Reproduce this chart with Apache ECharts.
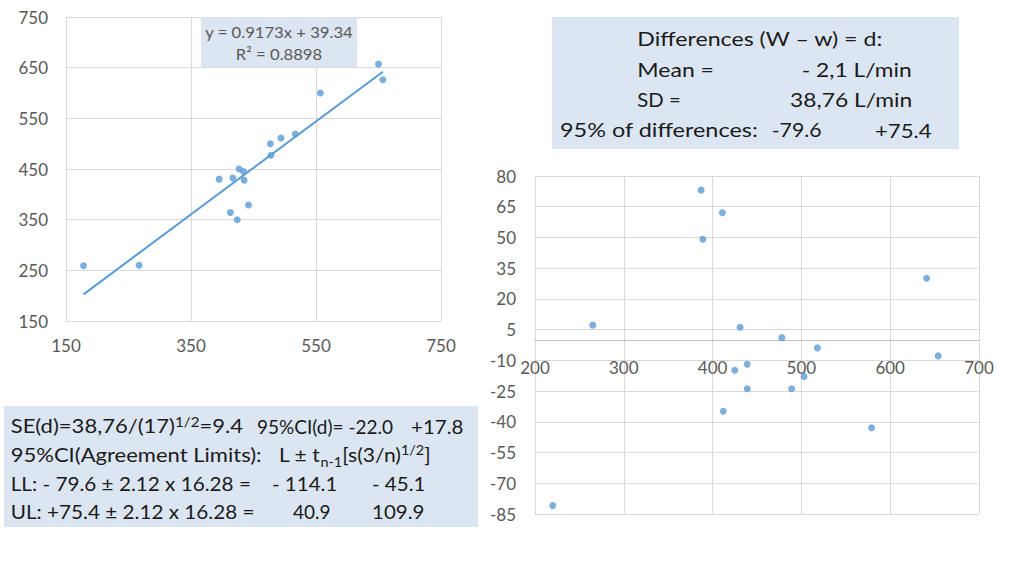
<!DOCTYPE html>
<html><head><meta charset="utf-8">
<script src="https://cdn.jsdelivr.net/npm/echarts@6/dist/echarts.min.js"></script>
<style>html,body{margin:0;padding:0;background:#fff}#c{width:1024px;height:576px}</style>
</head><body><div id="c"></div>
<script>
// ---- Left chart: W (x) vs w (y) ----
const leftX = [178, 267, 395, 417, 427, 434, 435, 413, 424, 442, 477, 478, 494, 517, 557, 650, 657];
const leftY = [259, 260, 430, 432, 450, 445, 428, 364, 350, 379, 500, 477, 511, 519, 600, 657, 626];
const trendSlope = 0.9173;
const trendIntercept = 39.34;
const rSquared = 0.8898;
const leftXTicks = [150, 350, 550, 750];
const leftYTicks = [150, 250, 350, 450, 550, 650, 750];

// ---- Right chart: mean (x) vs difference (y) ----
const meanValues = [387, 411, 389, 641, 265, 431, 478, 518, 654, 439, 425, 503, 439, 489, 412, 579, 220];
const diffValues = [73.1, 62.1, 49.1, 30.1, 7.2, 6.2, 1.1, -3.9, -7.8, -11.9, -14.8, -17.9, -23.9, -23.9, -34.8, -42.9, -80.9];
const rightXTicks = [200, 300, 400, 500, 600, 700];
const rightYTicks = [-85, -70, -55, -40, -25, -10, 5, 20, 35, 50, 65, 80];

const FONT = 'Lato';
const BLUE = '#5b9bd5';
const GRID = '#d9d9d9';
const LABEL = '#595959';
const BOX = '#dce6f2';
const INK = '#1a1a1a';

const leftPts = leftX.map((x, i) => [x, leftY[i]]);
const rightPts = meanValues.map((x, i) => [x, diffValues[i]]);
const tx0 = Math.min(...leftX), tx1 = Math.max(...leftX);
const trendPts = [[tx0, trendSlope * tx0 + trendIntercept], [tx1, trendSlope * tx1 + trendIntercept]];

function axisCommon(ticks, extra) {
  return Object.assign({
    type: 'value',
    axisLine: { show: true, onZero: false, lineStyle: { color: GRID } },
    axisTick: { show: false, customValues: ticks },
    splitLine: { show: true, lineStyle: { color: GRID, width: 1 } },
    axisLabel: { customValues: ticks, color: LABEL, fontSize: 17, fontFamily: FONT }
  }, extra);
}

const mctx = document.createElement('canvas').getContext('2d');
function measure(text, size) {
  mctx.font = size + 'px ' + FONT;
  return mctx.measureText(text).width;
}
function piece(x, y, text, size, s, align, color) {
  return { type: 'text', z: 100, x: x, y: y, scaleX: s,
    style: { text: text, x: 0, y: 0, fill: color || INK, fontSize: size, fontFamily: FONT,
      textAlign: align || 'left', textVerticalAlign: 'middle' } };
}
// text piece stretched horizontally to span [x0, x1]
function fit(x0, x1, y, text, size, align) {
  let s = (x1 - x0) / measure(text, size);
  s = Math.max(0.9, Math.min(1.3, s));
  return align === 'right' ? piece(x1, y, text, size, s, 'right') : piece(x0, y, text, size, s);
}
// sequence of runs (with super/subscripts) laid out from x with a uniform horizontal scale
function seq(x, y, runs, s) {
  s = s || 1.08;
  const out = [];
  let cx = x;
  runs.forEach(r => {
    const size = r[1] || 19, dy = r[2] || 0;
    out.push(piece(cx, y + dy, r[0], size, s));
    cx += measure(r[0], size) * s;
  });
  return out;
}

const zeroOffset = -338 * (0 - (-85)) / (80 - (-85)); // lift the x axis to y = 0

const chart = echarts.init(document.getElementById('c'), null, { renderer: 'svg', width: 1024, height: 576 });
chart.setOption({
  animation: false,
  backgroundColor: '#ffffff',
  textStyle: { fontFamily: FONT },
  grid: [
    { left: 66, top: 17, width: 375, height: 304, outerBoundsMode: 'none' },
    { left: 535, top: 176, width: 444, height: 338, outerBoundsMode: 'none' }
  ],
  xAxis: [
    axisCommon(leftXTicks, { gridIndex: 0, min: 150, max: 750,
      axisLabel: { customValues: leftXTicks, color: LABEL, fontSize: 17, fontFamily: FONT, margin: 16 } }),
    axisCommon(rightXTicks, { gridIndex: 1, min: 200, max: 700, position: 'bottom', offset: zeroOffset,
      axisLine: { show: true, onZero: false, lineStyle: { color: '#bfbfbf' } },
      axisLabel: { customValues: rightXTicks, color: LABEL, fontSize: 17, fontFamily: FONT, margin: 19 } })
  ],
  yAxis: [
    axisCommon(leftYTicks, { gridIndex: 0, min: 150, max: 750,
      axisLabel: { customValues: leftYTicks, color: LABEL, fontSize: 17, fontFamily: FONT, margin: 18 } }),
    axisCommon(rightYTicks, { gridIndex: 1, min: -85, max: 80,
      axisLabel: { customValues: rightYTicks, color: LABEL, fontSize: 17, fontFamily: FONT, margin: 19 } })
  ],
  series: [
    { type: 'line', xAxisIndex: 0, yAxisIndex: 0, data: trendPts, showSymbol: false, silent: true,
      lineStyle: { color: BLUE, width: 2 }, z: 2 },
    { type: 'scatter', xAxisIndex: 0, yAxisIndex: 0, data: leftPts, symbolSize: 7,
      itemStyle: { color: BLUE }, z: 3 },
    { type: 'scatter', xAxisIndex: 1, yAxisIndex: 1, data: rightPts, symbolSize: 7,
      itemStyle: { color: BLUE }, z: 3 }
  ],
  graphic: [].concat(
    // trendline label box
    [{ type: 'rect', z: 50, shape: { x: 201, y: 17, width: 156, height: 50 }, style: { fill: BOX } },
     piece(279, 32, 'y = ' + trendSlope + 'x + ' + trendIntercept, 16, 1.04, 'center', LABEL),
     piece(279, 54, 'R² = ' + rSquared, 16, 1.04, 'center', LABEL)],
    // top-right stats box
    [{ type: 'rect', z: 50, shape: { x: 552, y: 17, width: 407, height: 132 }, style: { fill: BOX } },
     fit(637.3, 883.3, 39, 'Differences (W – w) = d:', 20),
     fit(637.3, 714, 69.5, 'Mean =', 20),
     fit(801.7, 911.7, 69.5, '- 2,1 L/min', 20, 'right'),
     fit(637.3, 680.7, 99.5, 'SD =', 20),
     fit(790, 912.3, 99.5, '38,76 L/min', 20, 'right'),
     fit(560, 758.3, 129.5, '95% of differences:', 20),
     fit(771.7, 821.7, 129.5, '-79.6', 20),
     fit(875, 931.7, 129.5, '+75.4', 20)],
    // bottom-left box
    [{ type: 'rect', z: 50, shape: { x: 4, y: 406, width: 474, height: 121 }, style: { fill: BOX } }],
    seq(10.7, 426, [['SE(d)=38,76/(17)'], ['1/2', 13, -4.5], ['=9.4']], 1.16),
    seq(257, 426, [['95%CI(d)= -22.0']], 1.0),
    seq(411, 426, [['+17.8']]),
    seq(10.7, 454.7, [['95%CI(Agreement Limits):']], 1.16),
    seq(279, 454.7, [['L ± t'], ['n-1', 13, 7], ['[s(3/n)'], ['1/2', 13, -4.7], [']']], 1.11),
    seq(10.7, 483, [['LL: - 79.6 ± 2.12 x 16.28 =']], 1.09),
    seq(272, 483, [['- 114.1']]),
    seq(372, 483, [['- 45.1']]),
    seq(10.7, 511, [['UL: +75.4 ± 2.12 x 16.28 =']], 1.09),
    seq(293, 511, [['40.9']], 1.0),
    seq(372, 511, [['109.9']])
  )
});
</script></body></html>
